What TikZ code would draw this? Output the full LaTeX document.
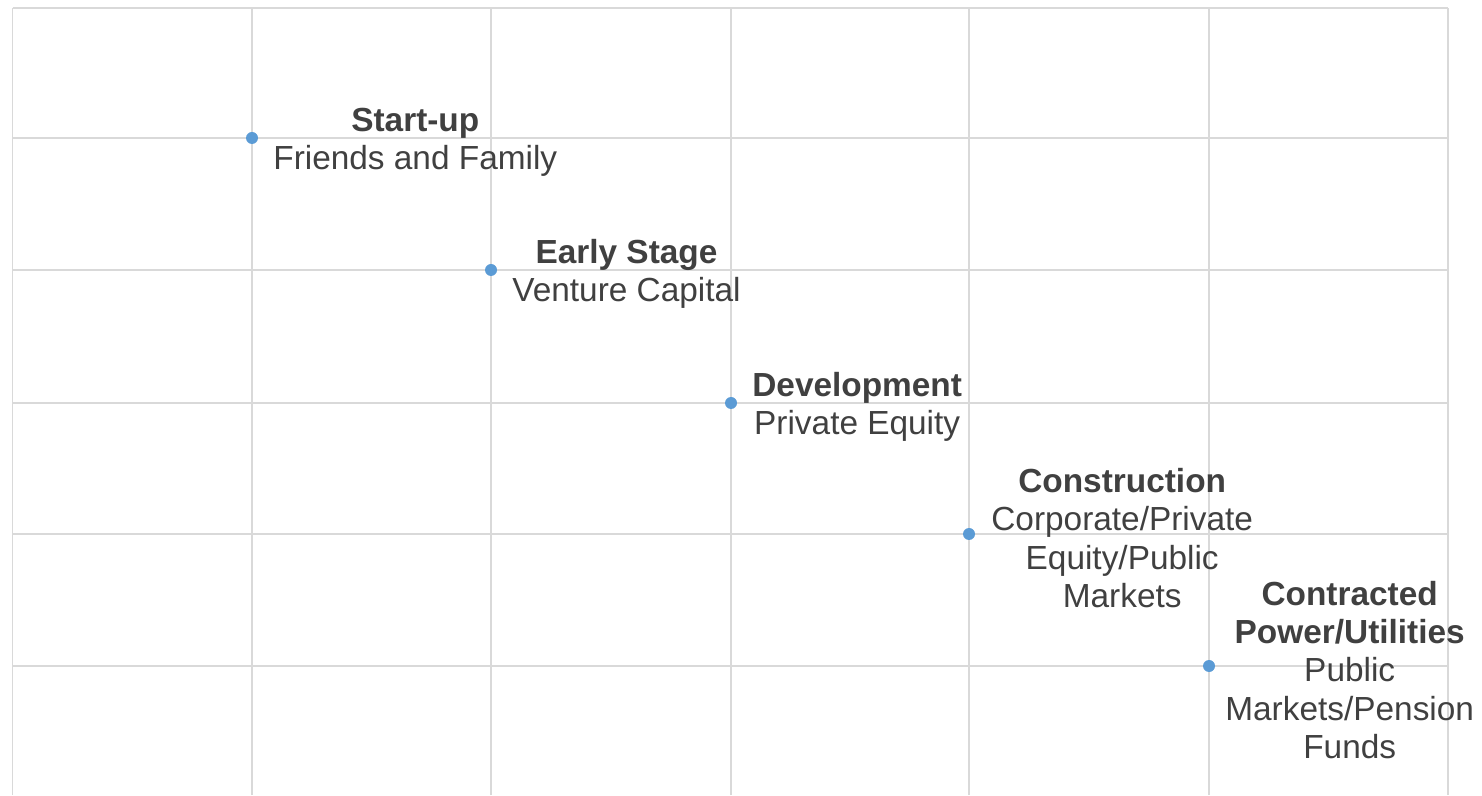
\documentclass[tikz,border=0pt]{standalone}
\usepackage{fontspec}
\setmainfont{Liberation Sans}
\usepackage{tikz}
\usetikzlibrary{positioning}
\usepackage{xcolor}
\definecolor{gridgray}{RGB}{217,217,217}
\definecolor{dotblue}{RGB}{91,155,213}
\definecolor{txtgray}{RGB}{64,64,64}

\begin{document}
\begin{tikzpicture}[
    stage/.style={circle, fill=dotblue, inner sep=0pt, minimum size=0.24cm},
    stagelabel/.style={anchor=west, align=center, inner sep=0pt, text=txtgray, yshift=-0.08cm,
        font=\fontsize{19pt}{21.8pt}\selectfont}]
\useasboundingbox (0,0) rectangle (29.64,15.9);

% Grid
\foreach \x in {0.25,5.04,9.82,14.62,19.38,24.18,28.96}
  \draw[gridgray, line width=0.9pt] (\x,0) -- (\x,15.74);
\foreach \y in {15.74,13.14,10.5,7.84,5.22,2.58}
  \draw[gridgray, line width=0.9pt] (0.25,\y) -- (28.96,\y);

% Stages
\node[stage] (startup) at (5.04,13.14) {};
\node[stage] (early) at (9.82,10.5) {};
\node[stage] (devel) at (14.62,7.84) {};
\node[stage] (constr) at (19.38,5.22) {};
\node[stage] (contract) at (24.18,2.58) {};

% Labels
\node[stagelabel, right=0.42cm of startup.center] (startuplbl) {\textbf{Start-up}\\Friends and Family};
\node[stagelabel, right=0.42cm of early.center] (earlylbl) {\textbf{Early Stage}\\Venture Capital};
\node[stagelabel, right=0.42cm of devel.center] (devellbl) {\textbf{Development}\\Private Equity};
\node[stagelabel, right=0.44cm of constr.center] (constrlbl) {\textbf{Construction}\\Corporate/Private\\Equity/Public\\Markets};
\node[stagelabel, right=0.32cm of contract.center] (contractlbl) {\textbf{Contracted}\\\textbf{Power/Utilities}\\Public\\Markets/Pension\\Funds};

\end{tikzpicture}
\end{document}
